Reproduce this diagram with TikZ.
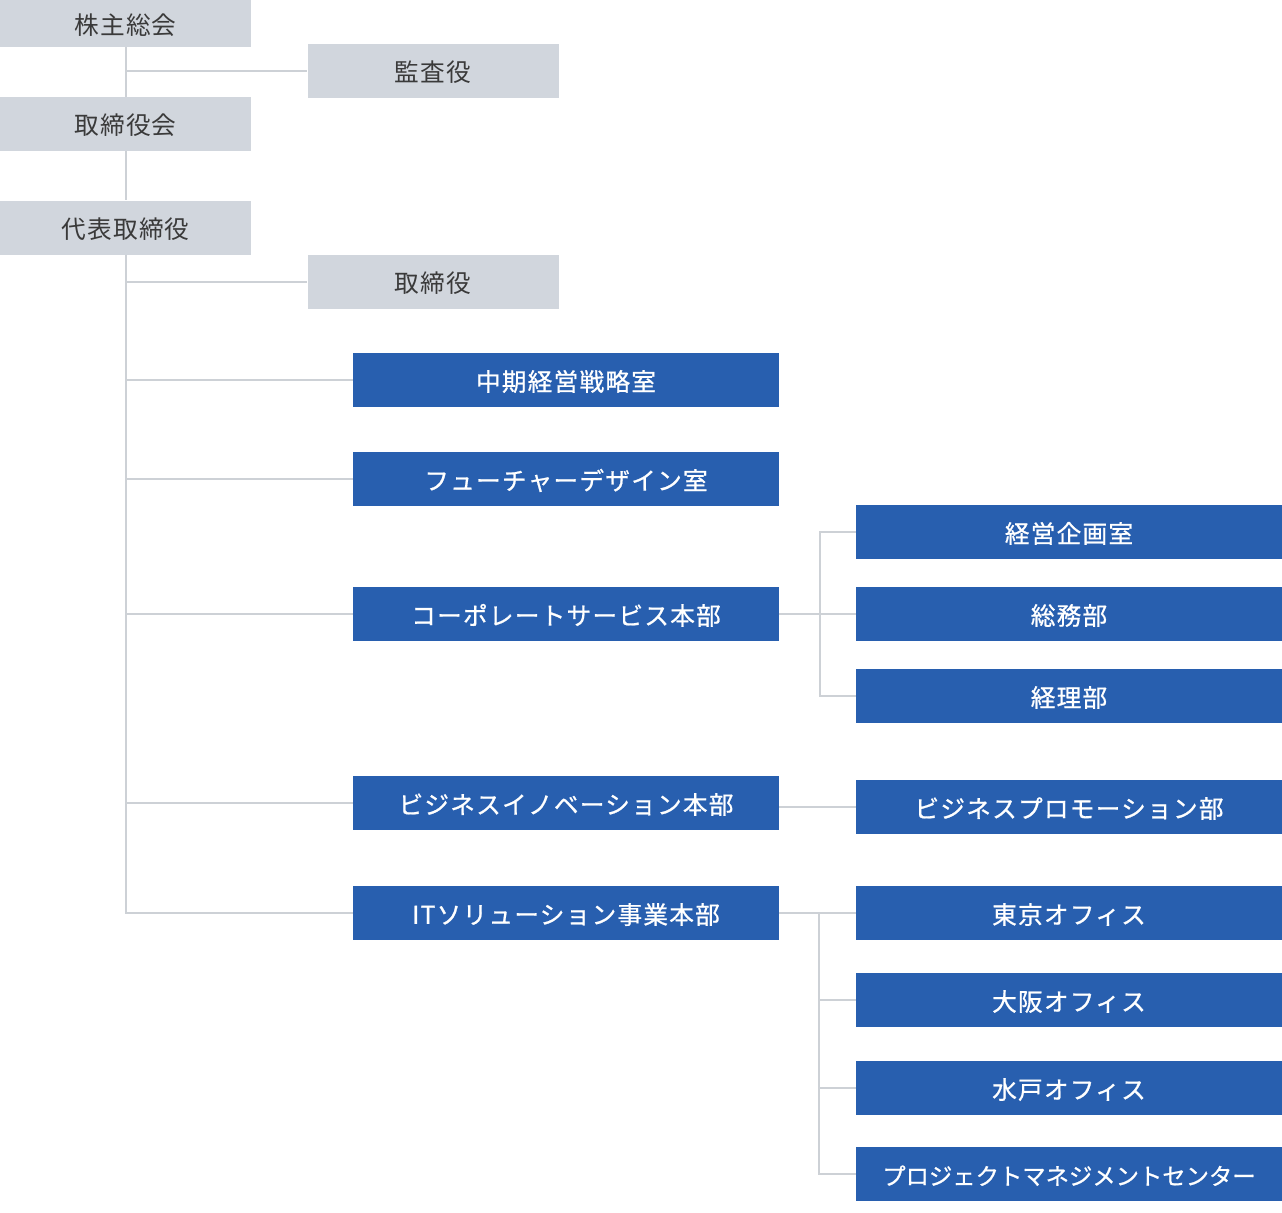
\documentclass[tikz,border=0pt]{standalone}
\usepackage{fontspec}
\setmainfont{Noto Sans CJK JP}
\newfontfamily\jpfont{Noto Sans CJK JP}[LetterSpace=5]
\newfontfamily\jpbold{Noto Sans CJK JP}[LetterSpace=5,FakeBold=0.8]
\newfontfamily\jpboldn{Noto Sans CJK JP}[LetterSpace=0,FakeBold=0.8]
\definecolor{boxgrey}{HTML}{D1D6DD}
\definecolor{boxblue}{HTML}{285FAF}
\definecolor{linegrey}{HTML}{CDD1D6}
\definecolor{textgrey}{HTML}{3A3A3A}
\tikzset{
	orgbox/.style={inner sep=0pt,minimum height=40.5pt,text height=1.75em,text depth=0.12em},
	greybox/.style={orgbox,fill=boxgrey,text=textgrey,minimum width=188.25pt,
		font=\jpfont\fontsize{18.5}{18.5}\selectfont},
	bluebox/.style={orgbox,fill=boxblue,text=white,minimum width=319.5pt,
		font=\jpbold\fontsize{18.5}{18.5}\selectfont},
	conn/.style={draw=linegrey,line width=1.5pt}}

\begin{document}
\begin{tikzpicture}[x=0.75pt,y=-0.75pt]
		\useasboundingbox (0,0) rectangle (1282,1213);
		% top management
		\begin{scope}[every node/.style={greybox}]
			\node[minimum height=35.25pt] (kabu) at (125.5,23.5) {株主総会};
			\node (kansa) at (433,71) {監査役};
			\node (torikai) at (125.5,124) {取締役会};
			\node (daihyo) at (125.5,227.5) {代表取締役};
			\node (tori) at (433,282) {取締役};
		\end{scope}
		% divisions
		\begin{scope}[every node/.style={bluebox}]
			\node (chuki) at (566,380) {中期経営戦略室};
			\node (future) at (566,479) {フューチャーデザイン室};
			\node (corp) at (566,614) {コーポレートサービス本部};
			\node (bi) at (566,803) {ビジネスイノベーション本部};
			\node (it) at (566,913) {ITソリューション事業本部};
			\node (kikaku) at (1069,532) {経営企画室};
			\node (somu) at (1069,614) {総務部};
			\node (keiri) at (1069,696) {経理部};
			\node (bp) at (1069,807) {ビジネスプロモーション部};
			\node (tokyo) at (1069,913) {東京オフィス};
			\node (osaka) at (1069,1000) {大阪オフィス};
			\node (mito) at (1069,1088) {水戸オフィス};
			\node[font=\jpboldn\fontsize{17.5}{17.5}\selectfont] (pmc) at (1069,1174) {プロジェクトマネジメントセンター};
		\end{scope}
		\coordinate (cj) at (820,614);
		\coordinate (ij) at (819,913);
		\begin{scope}[every path/.style={conn}]
			\path (kabu.south) -- (torikai.north);
			\path (torikai.south) -- (daihyo.north);
			\path (daihyo.south) -- (daihyo.south |- it.west) -- (it.west);
			\path (kabu.south |- kansa.west) -- (kansa.west);
			\path (daihyo.south |- tori.west) -- (tori.west);
			\path (daihyo.south |- chuki.west) -- (chuki.west);
			\path (daihyo.south |- future.west) -- (future.west);
			\path (daihyo.south |- corp.west) -- (corp.west);
			\path (daihyo.south |- bi.west) -- (bi.west);
			\path (corp.east) -- (somu.west);
			\path (kikaku.west) -| (cj) |- (keiri.west);
			\path (bi.east |- bp.west) -- (bp.west);
			\path (it.east) -- (tokyo.west);
			\path (ij) |- (pmc.west);
			\path (ij |- osaka.west) -- (osaka.west);
			\path (ij |- mito.west) -- (mito.west);
		\end{scope}
	\end{tikzpicture}
\end{document}
